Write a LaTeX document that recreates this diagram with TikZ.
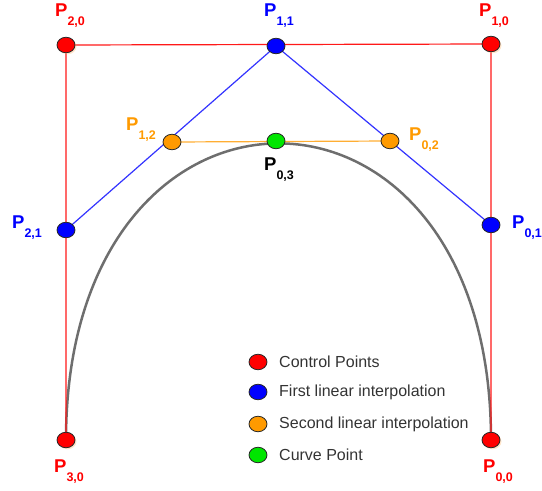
\documentclass[tikz,border=0pt]{standalone}
\usepackage{fontspec}
\setmainfont{Liberation Sans}
\usetikzlibrary{shapes.geometric,shadows}
\definecolor{controle}{HTML}{ff0000}
\definecolor{primeira}{HTML}{0000ff}
\definecolor{segunda}{HTML}{ff9a00}
\definecolor{curva}{HTML}{00e600}
\definecolor{tinta}{HTML}{333333}
\definecolor{traco}{HTML}{6e6e6e}
\newcommand{\plab}[1]{{\fontsize{18.5}{18}\selectfont\bfseries P}\raisebox{-9.5pt}{\fontsize{12.5}{12}\selectfont\bfseries #1}}

\begin{document}
\begin{tikzpicture}[x=1pt,y=-1pt,
  dot/.style={ellipse, draw=black!85, line width=0.8pt, minimum width=18pt, minimum height=15.5pt, inner sep=0pt},
  sombra/.style={drop shadow={shadow xshift=1.5pt, shadow yshift=-1.5pt, fill=orange!45, opacity=0.45}},
  lab/.style={anchor=base west, inner sep=0pt}]
\useasboundingbox (0,0) rectangle (542,491);
% pontos de controle
\coordinate (c30) at (66,440);
\coordinate (c20) at (66,45);
\coordinate (c10) at (491,44);
\coordinate (c00) at (491,440);
% curva de Bezier
\draw[traco, line width=2.5pt] (c30) .. controls (c20) and (c10) .. (c00);
% poligono de controle
\draw[controle!90, line width=1.2pt] (c30) -- (c20) -- (c10) -- (c00);
% interpolacoes
\coordinate (c21) at (66,230);
\coordinate (c11) at (276,46);
\coordinate (c01) at (491,225);
\coordinate (c12) at (172,142);
\coordinate (c02) at (390,141);
\coordinate (c03) at (276,141);
\draw[primeira!80, line width=1.2pt] (c21) -- (c11) -- (c01);
\draw[segunda!80, line width=1.2pt] (c12) -- (c02);
% pontos
\foreach \n in {30,20,10,00} \node[dot, sombra, fill=controle] (p\n) at (c\n) {};
\foreach \n in {21,11,01} \node[dot, fill=primeira] (p\n) at (c\n) {};
\foreach \n in {12,02} \node[dot, fill=segunda] (p\n) at (c\n) {};
\node[dot, fill=curva] (p03) at (c03) {};
% rotulos
\node[lab, text=controle] (l20) at (55,16) {\plab{2,0}};
\node[lab, text=primeira] (l11) at (264,16) {\plab{1,1}};
\node[lab, text=controle] (l10) at (479,16) {\plab{1,0}};
\node[lab, text=segunda] (l12) at (126,130) {\plab{1,2}};
\node[lab, text=black] (l03) at (264,170) {\plab{0,3}};
\node[lab, text=segunda] (l02) at (409,140) {\plab{0,2}};
\node[lab, text=primeira] (l21) at (12,228) {\plab{2,1}};
\node[lab, text=primeira] (l01) at (512,228) {\plab{0,1}};
\node[lab, text=controle] (l30) at (54,472) {\plab{3,0}};
\node[lab, text=controle] (l00) at (483,472) {\plab{0,0}};
% legenda
\foreach \c/\y/\t in {controle/362/Control Points, primeira/392/First linear interpolation, segunda/424/Second linear interpolation, curva/455/Curve Point}{
  \node[dot, fill=\c] (leg\y) at (258,\y) {};
  \node[anchor=west, inner sep=0pt, text=tinta, font=\fontsize{16}{16}\selectfont] (legt\y) at (279,\y) {\t};
}
\end{tikzpicture}
\end{document}
